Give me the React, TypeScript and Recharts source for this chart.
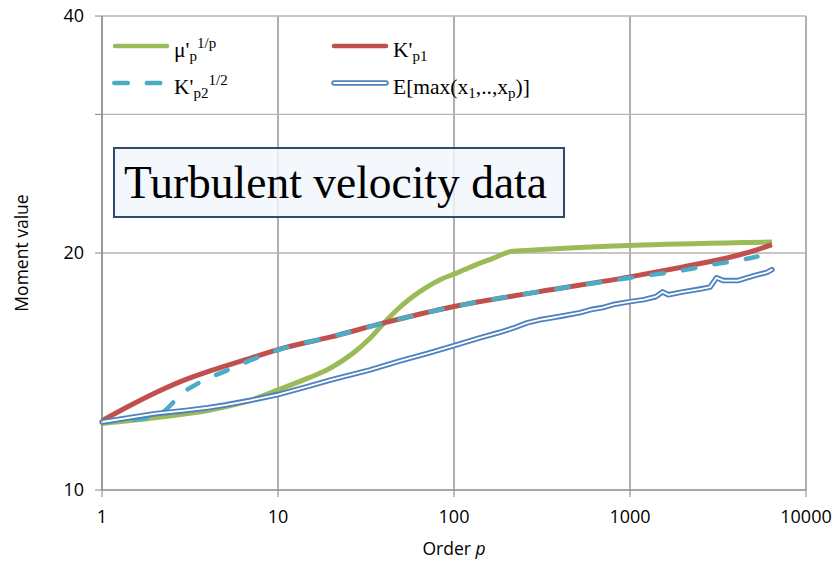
import React from "react";
import {
  LineChart,
  Line,
  XAxis,
  YAxis,
  CartesianGrid,
  Legend,
} from "recharts";

// order p ticks (log) and moment ticks (log, 30 has no label)
const xTicks = [1, 10, 100, 1000, 10000];
const yTicks = [10, 20, 30, 40];

// mu'_p ^ (1/p)
const muOrder = [1, 2, 3, 4, 5, 7, 10, 14, 17, 20, 27, 33, 40, 48, 56, 70, 85, 100, 128, 160, 216, 6400];
const muValue = [12.15, 12.35, 12.5, 12.62, 12.75, 13.0, 13.4, 13.8, 14.05, 14.3, 14.95, 15.55, 16.3, 16.98, 17.48, 18.1, 18.54, 18.8, 19.25, 19.62, 20.1, 20.65];

// K'_p1
const k1Order = [1, 1.5, 2, 3, 4, 5, 7, 10, 20, 40, 100, 300, 1000, 2000, 3000, 4100, 5300, 6400];
const k1Value = [12.25, 12.86, 13.28, 13.82, 14.14, 14.37, 14.71, 15.08, 15.65, 16.3, 17.1, 17.85, 18.65, 19.2, 19.55, 19.87, 20.2, 20.5];

// K'_p2 ^ (1/2)
const k2Order = [1, 2, 3, 4, 5, 7, 10, 20, 40, 100, 300, 1000, 2100, 3200, 4300, 5300];
const k2Value = [12.2, 12.4, 13.38, 13.86, 14.15, 14.62, 15.06, 15.65, 16.3, 17.1, 17.85, 18.6, 19.05, 19.4, 19.6, 19.8];

// E[max(x1..xp)]
const maxOrder = [1, 2, 3, 4, 5, 7, 10, 15, 20, 33, 50, 70, 100, 140, 180, 216, 260, 306, 360, 420, 520, 600, 700, 800, 1000, 1200, 1400, 1530, 1650, 2000, 2500, 2850, 3100, 3400, 4100, 4600, 5200, 6000, 6400];
const maxValue = [12.2, 12.5, 12.62, 12.72, 12.82, 13.0, 13.22, 13.55, 13.8, 14.2, 14.6, 14.9, 15.25, 15.6, 15.85, 16.05, 16.3, 16.45, 16.55, 16.65, 16.8, 16.95, 17.05, 17.2, 17.35, 17.45, 17.6, 17.85, 17.7, 17.85, 18.0, 18.1, 18.6, 18.45, 18.45, 18.6, 18.75, 18.9, 19.05];

const toRows = (order: number[], value: number[]) =>
  order.map((p, i) => ({ p, v: value[i] }));

const muData = toRows(muOrder, muValue);
const k1Data = toRows(k1Order, k1Value);
const k2Data = toRows(k2Order, k2Value);
const maxData = toRows(maxOrder, maxValue);

const GREEN = "#9bbb59";
const RED = "#c0504d";
const CYAN = "#4bacc6";
const BLUE = "#4f81bd";
const AXIS = "#868686";
const sans = "'Open Sans', 'Liberation Sans', sans-serif";
const serif = "'Liberation Serif', 'DejaVu Serif', serif";
const DASH = "12.5 19.5";

const Sub = ({ children }: { children: React.ReactNode }) => (
  <span style={{ fontSize: "0.7em", position: "relative", top: "0.3em" }}>{children}</span>
);
const Sup = ({ children }: { children: React.ReactNode }) => (
  <span style={{ fontSize: "0.7em", position: "relative", top: "-0.55em" }}>{children}</span>
);

function Sample({ kind }: { kind: string }) {
  if (kind === "mu" || kind === "k1") {
    return (
      <svg width={58} height={12}>
        <line x1={3} y1={6} x2={55} y2={6} stroke={kind === "mu" ? GREEN : RED} strokeWidth={4.5} strokeLinecap="round" />
      </svg>
    );
  }
  if (kind === "k2") {
    return (
      <svg width={58} height={12}>
        <line x1={2.3} y1={6} x2={50} y2={6} stroke={CYAN} strokeWidth={4.5} strokeLinecap="round" strokeDasharray="13.5 19" />
      </svg>
    );
  }
  return (
    <svg width={58} height={12}>
      <line x1={3} y1={6} x2={55} y2={6} stroke={BLUE} strokeWidth={5.5} strokeLinecap="round" />
      <line x1={3} y1={6} x2={55} y2={6} stroke="#fff" strokeWidth={1.8} strokeLinecap="round" />
    </svg>
  );
}

const legendItems = [
  { kind: "mu", col: 0, row: 0, text: <>μ'<Sub>p</Sub><Sup>1/p</Sup></> },
  { kind: "k1", col: 1, row: 0, text: <>K'<Sub>p1</Sub></> },
  { kind: "k2", col: 0, row: 1, text: <>K'<Sub>p2</Sub><Sup>1/2</Sup></> },
  { kind: "max", col: 1, row: 1, text: <>E[max(x<Sub>1</Sub>,..,x<Sub>p</Sub>)]</> },
];

function LegendBox() {
  return (
    <div style={{ position: "relative", width: 480, height: 72, fontFamily: serif, fontSize: 21.5, color: "#000" }}>
      {legendItems.map((it) => {
        const left = it.col * 219;
        const lineY = 16 + it.row * 37;
        return (
          <div key={it.kind}>
            <div style={{ position: "absolute", left, top: lineY - 6, height: 12, lineHeight: 0 }}>
              <Sample kind={it.kind} />
            </div>
            <div style={{ position: "absolute", left: left + 62, top: lineY - 6.5, lineHeight: "21px", whiteSpace: "nowrap" }}>
              {it.text}
            </div>
          </div>
        );
      })}
    </div>
  );
}

const YTitle = (props: any) => {
  const vb = props.viewBox || { x: 0, y: 16, width: 102, height: 474 };
  const cx = vb.x + 21;
  const cy = vb.y + vb.height / 2;
  return (
    <text x={cx} y={cy} transform={`rotate(-90 ${cx} ${cy})`} textAnchor="middle" dominantBaseline="central" fontFamily={sans} fontSize={17.5} fill="#000">
      Moment value
    </text>
  );
};

const XTitle = (props: any) => {
  const vb = props.viewBox || { x: 102, y: 490, width: 704, height: 73 };
  return (
    <text x={vb.x + vb.width / 2} y={vb.y + 65} textAnchor="middle" fontFamily={sans} fontSize={17.5} fill="#000">
      Order <tspan fontStyle="italic">p</tspan>
    </text>
  );
};

export default function App() {
  return (
    <div style={{ position: "absolute", left: 0, top: 0, width: 836, height: 563, background: "#fff" }}>
      <LineChart width={836} height={563} margin={{ top: 16, right: 30, left: 0, bottom: 0 }}>
        <CartesianGrid horizontal={false} stroke={AXIS} strokeWidth={1.3} />
        <CartesianGrid vertical={false} stroke="#b4b4b4" strokeWidth={1.3} />
        <XAxis
          dataKey="p"
          type="number"
          scale="log"
          domain={[1, 10000]}
          ticks={xTicks}
          height={73}
          stroke={AXIS}
          tickSize={7}
          tickMargin={13}
          tick={{ fill: "#000", fontSize: 18, fontFamily: sans }}
          label={<XTitle />}
        />
        <YAxis
          type="number"
          scale="log"
          domain={[10, 40]}
          ticks={yTicks}
          width={102}
          stroke={AXIS}
          tickSize={7}
          tickMargin={11}
          tick={{ fill: "#000", fontSize: 18, fontFamily: sans }}
          tickFormatter={(v: number) => (v === 30 ? "" : String(v))}
          label={<YTitle />}
        />
        <Legend
          layout="horizontal"
          verticalAlign="middle"
          align="center"
          content={() => <LegendBox />}
          wrapperStyle={{ left: 112, top: 30, width: 480, height: 72 }}
        />
        <Line data={muData} dataKey="v" type="monotone" stroke={GREEN} strokeWidth={5} dot={false} activeDot={false} isAnimationActive={false} />
        <Line data={k1Data} dataKey="v" type="monotone" stroke={RED} strokeWidth={5} dot={false} activeDot={false} isAnimationActive={false} />
        <Line data={k2Data} dataKey="v" type="monotone" stroke={CYAN} strokeWidth={4.5} strokeDasharray={DASH} strokeLinecap="round" dot={false} activeDot={false} isAnimationActive={false} />
        <Line data={maxData} dataKey="v" type="linear" stroke={BLUE} strokeWidth={5.5} strokeLinecap="round" strokeLinejoin="round" dot={false} activeDot={false} isAnimationActive={false} />
        <Line data={maxData} dataKey="v" type="linear" stroke="#fff" strokeWidth={1.8} strokeLinecap="round" strokeLinejoin="round" dot={false} activeDot={false} isAnimationActive={false} />
      </LineChart>
      <div
        style={{
          position: "absolute",
          left: 113,
          top: 147,
          width: 452,
          height: 71,
          boxSizing: "border-box",
          border: "2px solid #2f4a6c",
          background: "rgba(242, 245, 251, 0.82)",
          fontFamily: serif,
          fontSize: 45.5,
          lineHeight: "45px",
          paddingLeft: 9,
          paddingTop: 11,
          whiteSpace: "nowrap",
          color: "#000",
        }}
      >
        Turbulent velocity data
      </div>
    </div>
  );
}
